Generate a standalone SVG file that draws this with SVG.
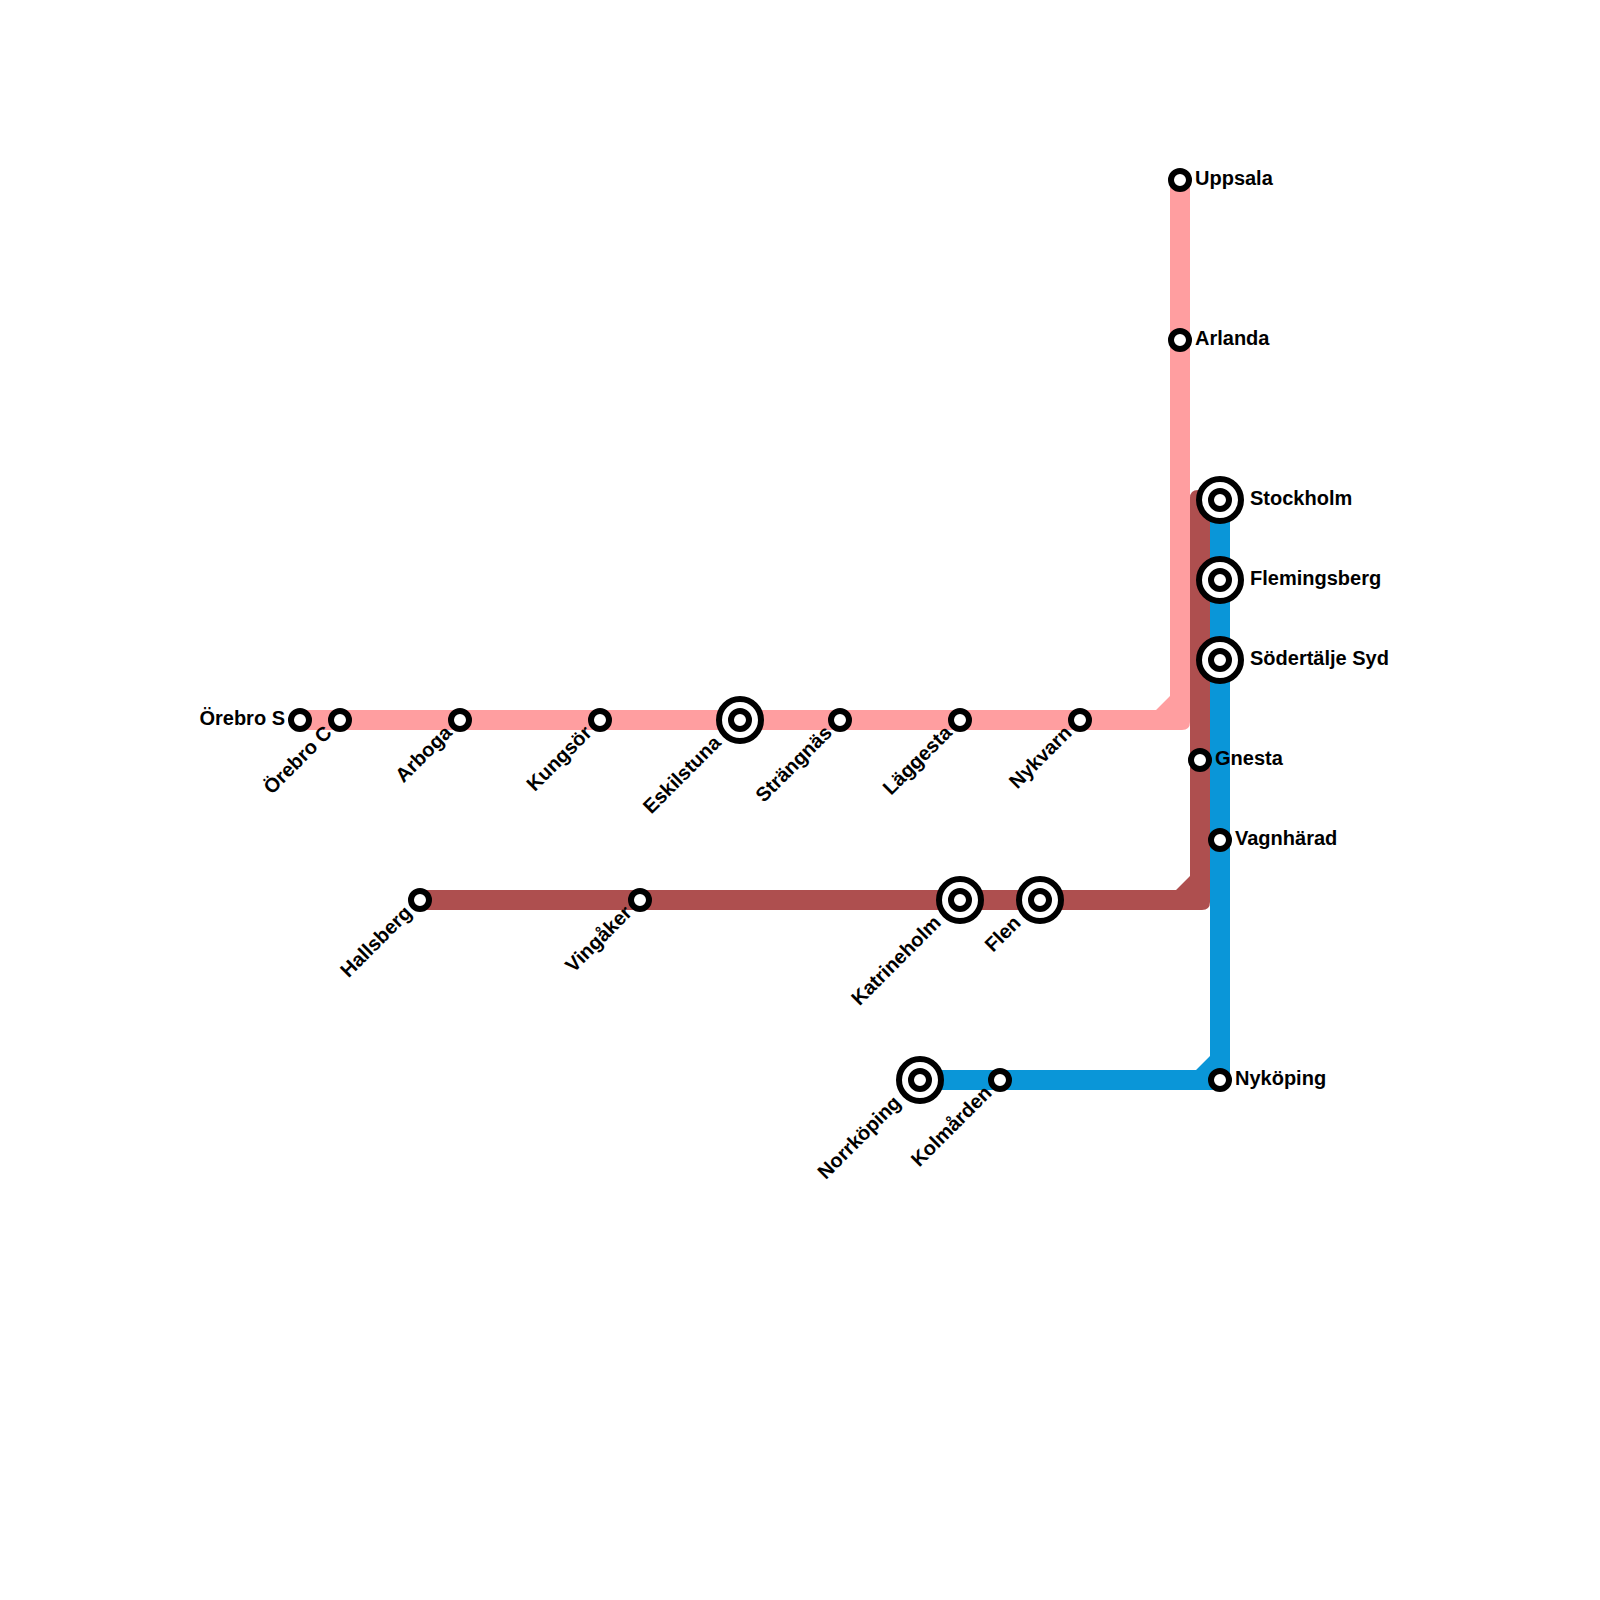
<svg xmlns="http://www.w3.org/2000/svg" width="1600" height="1600" viewBox="0 0 1600 1600">
<style>
text{font-family:"Liberation Sans",Arial,sans-serif;font-weight:700;font-size:20px;fill:#000}
.e{text-anchor:end}
.o{fill:#fff;stroke:#000;stroke-width:6}
</style>
<defs>
<g id="s"><circle class="o" r="9"/></g>
<g id="b"><circle class="o" r="21"/><circle class="o" r="9"/></g>
</defs>
<rect width="1600" height="1600" fill="#fff"/>
<g id="connectors">
<path id="blue" fill="#0a96d8" d="M920 1070H1196L1210 1056V500H1230V1082Q1230 1090 1222 1090H920Z"/>
<path id="brown" fill="#ae4f4f" d="M420 890H1176L1190 876V498Q1190 490 1198 490H1210V902Q1210 910 1202 910H420Z"/>
<path id="pink" fill="#ff9ea0" d="M300 710H1156L1170 696V180H1190V722Q1190 730 1182 730H300Z"/>
</g>
<g id="n-orebro-s"><use href="#s" x="300" y="720"/><text class="e" x="285" y="725">Örebro S</text></g>
<g id="n-orebro-c"><use href="#s" x="340" y="720"/><text class="e" transform="translate(333 734) rotate(-45)">Örebro C</text></g>
<g id="n-arboga"><use href="#s" x="460" y="720"/><text class="e" transform="translate(453 734) rotate(-45)">Arboga</text></g>
<g id="n-kungsor"><use href="#s" x="600" y="720"/><text class="e" transform="translate(593 734) rotate(-45)">Kungsör</text></g>
<g id="n-eskilstuna"><use href="#b" x="740" y="720"/><text class="e" transform="translate(722 744) rotate(-45)">Eskilstuna</text></g>
<g id="n-strangnas"><use href="#s" x="840" y="720"/><text class="e" transform="translate(833 734) rotate(-45)">Strängnäs</text></g>
<g id="n-laggesta"><use href="#s" x="960" y="720"/><text class="e" transform="translate(953 734) rotate(-45)">Läggesta</text></g>
<g id="n-nykvarn"><use href="#s" x="1080" y="720"/><text class="e" transform="translate(1073 734) rotate(-45)">Nykvarn</text></g>
<g id="n-hallsberg"><use href="#s" x="420" y="900"/><text class="e" transform="translate(413 914) rotate(-45)">Hallsberg</text></g>
<g id="n-vingaker"><use href="#s" x="640" y="900"/><text class="e" transform="translate(633 914) rotate(-45)">Vingåker</text></g>
<g id="n-katrineholm"><use href="#b" x="960" y="900"/><text class="e" transform="translate(942 924) rotate(-45)">Katrineholm</text></g>
<g id="n-flen"><use href="#b" x="1040" y="900"/><text class="e" transform="translate(1022 924) rotate(-45)">Flen</text></g>
<g id="n-norrkoping"><use href="#b" x="920" y="1080"/><text class="e" transform="translate(902 1104) rotate(-45)">Norrköping</text></g>
<g id="n-kolmarden"><use href="#s" x="1000" y="1080"/><text class="e" transform="translate(993 1094) rotate(-45)">Kolmården</text></g>
<g id="n-uppsala"><use href="#s" x="1180" y="180"/><text x="1195" y="185">Uppsala</text></g>
<g id="n-arlanda"><use href="#s" x="1180" y="340"/><text x="1195" y="345">Arlanda</text></g>
<g id="n-stockholm"><use href="#b" x="1220" y="500"/><text x="1250" y="505">Stockholm</text></g>
<g id="n-flemingsberg"><use href="#b" x="1220" y="580"/><text x="1250" y="585">Flemingsberg</text></g>
<g id="n-sodertalje"><use href="#b" x="1220" y="660"/><text x="1250" y="665">Södertälje Syd</text></g>
<g id="n-gnesta"><use href="#s" x="1200" y="760"/><text x="1215" y="765">Gnesta</text></g>
<g id="n-vagnharad"><use href="#s" x="1220" y="840"/><text x="1235" y="845">Vagnhärad</text></g>
<g id="n-nykoping"><use href="#s" x="1220" y="1080"/><text x="1235" y="1085">Nyköping</text></g>
</svg>
